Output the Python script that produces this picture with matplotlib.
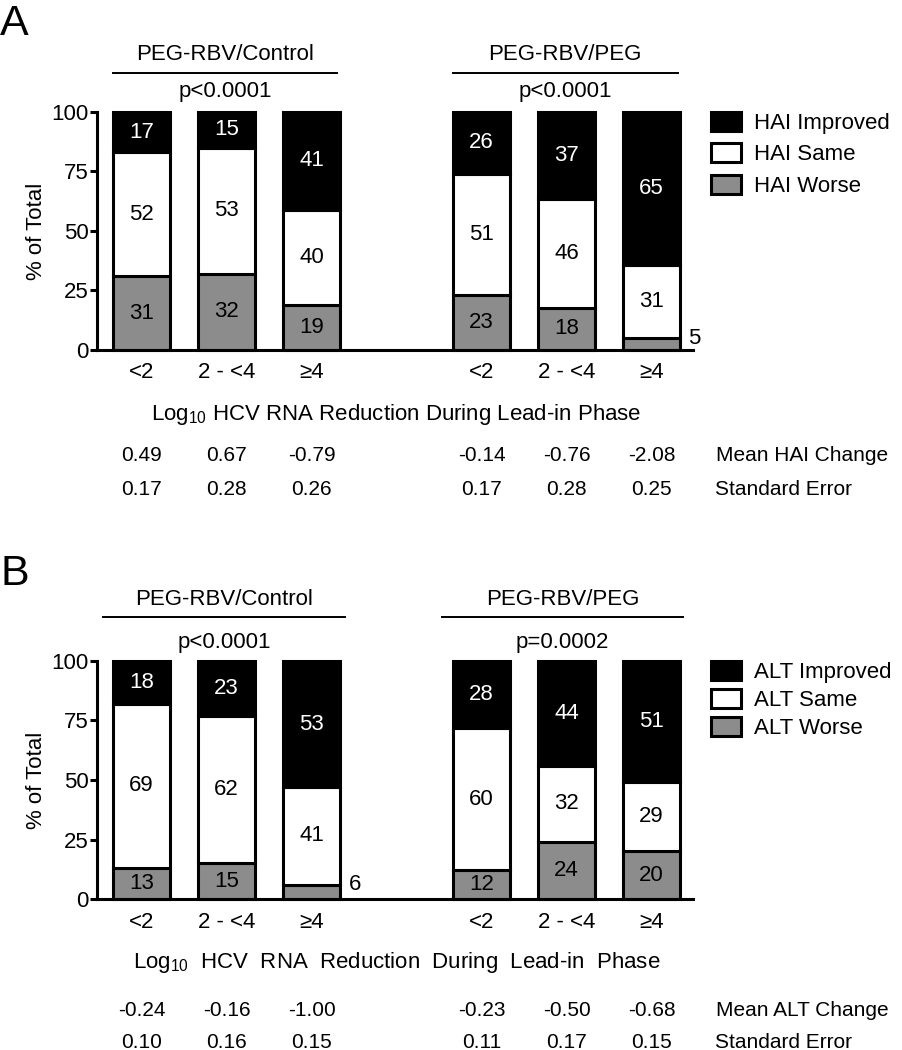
import numpy as np
import matplotlib.pyplot as plt
from matplotlib.patches import Patch

plt.rcParams['font.family'] = ['Liberation Sans', 'DejaVu Sans']
plt.rcParams['mathtext.fontset'] = 'custom'
plt.rcParams['mathtext.rm'] = 'Liberation Sans'
plt.rcParams['mathtext.it'] = 'Liberation Sans'
plt.rcParams['mathtext.bf'] = 'Liberation Sans:bold'

# Shared categories.
POSITIONS = [0, 1, 2, 4, 5, 6]
BINS = ['<2', '2 - <4', '≥4', '<2', '2 - <4', '≥4']
GROUPS = ['PEG-RBV/Control', 'PEG-RBV/PEG']

# Panel A: histology activity index.
HAI_WORSE = [31, 32, 19, 23, 18, 5]
HAI_SAME = [52, 53, 40, 51, 46, 31]
HAI_IMPROVED = [17, 15, 41, 26, 37, 65]
HAI_P = ['p<0.0001', 'p<0.0001']
HAI_MEAN = ['0.49', '0.67', '-0.79', '-0.14', '-0.76', '-2.08']
HAI_SE = ['0.17', '0.28', '0.26', '0.17', '0.28', '0.25']

# Panel B: ALT.
ALT_WORSE = [13, 15, 6, 12, 24, 20]
ALT_SAME = [69, 62, 41, 60, 32, 29]
ALT_IMPROVED = [18, 23, 53, 28, 44, 51]
ALT_P = ['p<0.0001', 'p=0.0002']
ALT_MEAN = ['-0.24', '-0.16', '-1.00', '-0.23', '-0.50', '-0.68']
ALT_SE = ['0.10', '0.16', '0.15', '0.11', '0.17', '0.15']

GRAY = '#8c8c8c'
LW = 2.2
WIDTH = 0.67
FS = 16


def draw_panel(ax, worse, same, improved, prefix, pvals, mean, se, row_label,
               spans, xlabel, legend_spacing, label_y):
    """ Draws one stacked bar panel with its annotations. """
    raw = [np.array(v, float) for v in (worse, same, improved)]
    total = sum(raw)
    styles = [(GRAY, 'black', f'{prefix} Worse'),
              ('white', 'black', f'{prefix} Same'),
              ('black', 'white', f'{prefix} Improved')]
    bottom = np.zeros(len(POSITIONS))
    handles = []
    for values, (color, txt, label) in zip(raw, styles):
        pct = values / total * 100
        ax.bar(POSITIONS, pct, WIDTH, bottom=bottom, color=color,
               edgecolor='black', linewidth=LW, clip_on=False, zorder=2)
        for x, b, h, v in zip(POSITIONS, bottom, pct, values):
            if v < 8:
                ax.text(x + WIDTH / 2 + 0.1, b + h, f'{v:g}', fontsize=FS,
                        ha='left', va='center')
            else:
                ax.text(x, b + h / 2, f'{v:g}', fontsize=FS, color=txt,
                        ha='center', va='center', zorder=3)
        bottom += pct
        handles.append(Patch(facecolor=color, edgecolor='black', linewidth=LW,
                             label=label))

    ax.set_xlim(-0.524, 6.488)
    ax.set_ylim(0, 100)
    ax.set_yticks([0, 25, 50, 75, 100])
    ax.set_xticks(POSITIONS, BINS)
    ax.tick_params(axis='y', length=5, width=LW, pad=1, labelsize=FS)
    ax.tick_params(axis='x', length=0, pad=9, labelsize=FS)
    for side in ('top', 'right'):
        ax.spines[side].set_visible(False)
    for side in ('left', 'bottom'):
        ax.spines[side].set_linewidth(LW)
    ax.set_ylabel('% of Total', fontsize=FS)
    ax.yaxis.set_label_coords(-0.084, 0.5)

    # Group headers above the bars.
    for (x0, x1), name, p in zip(spans, GROUPS, pvals):
        ax.plot([x0, x1], [label_y[1]] * 2, color='black', lw=1.4,
                clip_on=False)
        ax.text((x0 + x1) / 2, label_y[0], name, fontsize=FS, ha='center',
                va='baseline')
        ax.text((x0 + x1) / 2, label_y[2], p, fontsize=FS, ha='center',
                va='baseline')

    # Axis title and the summary rows below.
    ax.text(3, label_y[3], xlabel, fontsize=FS, ha='center', va='baseline')
    for x, m, s in zip(POSITIONS, mean, se):
        ax.text(x, label_y[4], m, fontsize=15, ha='center', va='baseline')
        ax.text(x, label_y[5], s, fontsize=15, ha='center', va='baseline')
    ax.text(6.76, label_y[4], row_label, fontsize=15, ha='left', va='baseline')
    ax.text(6.75, label_y[5], 'Standard Error', fontsize=15, ha='left',
            va='baseline')

    ax.legend(handles=handles[::-1], loc='upper left',
              bbox_to_anchor=(1.03, 1.0), frameon=False, fontsize=FS,
              handlelength=1.35, handleheight=0.95, handletextpad=0.6,
              labelspacing=legend_spacing, borderpad=0, borderaxespad=0)


fig = plt.figure(figsize=(9.02, 10.5), dpi=100)
ax_a = fig.add_axes([0.1075, 0.6667, 0.6608, 0.2267])
ax_b = fig.add_axes([0.1075, 0.1438, 0.6608, 0.2267])

draw_panel(ax_a, HAI_WORSE, HAI_SAME, HAI_IMPROVED, 'HAI', HAI_P, HAI_MEAN,
           HAI_SE, 'Mean HAI Change',
           spans=[(-0.335, 2.3), (3.66, 6.31)],
           xlabel='Log$_{10}$ HCV RNA Reduction During Lead-in Phase',
           legend_spacing=0.41,
           label_y=[121.8, 116.5, 106.4, -29.4, -46.6, -60.9])
draw_panel(ax_b, ALT_WORSE, ALT_SAME, ALT_IMPROVED, 'ALT', ALT_P, ALT_MEAN,
           ALT_SE, 'Mean ALT Change',
           spans=[(-0.45, 2.39), (3.54, 6.37)],
           xlabel='Log$_{10}$  HCV  RNA  Reduction  During  Lead-in  Phase',
           legend_spacing=0.255,
           label_y=[123.5, 118.6, 105.5, -29.0, -49.2, -62.4])

fig.text(0.0, 1 - 35 / 1050, 'A', fontsize=31, ha='left', va='baseline')
fig.text(0.0, 1 - 585 / 1050, 'B', fontsize=31, ha='left', va='baseline')

fig.savefig('out.png', dpi=100)
